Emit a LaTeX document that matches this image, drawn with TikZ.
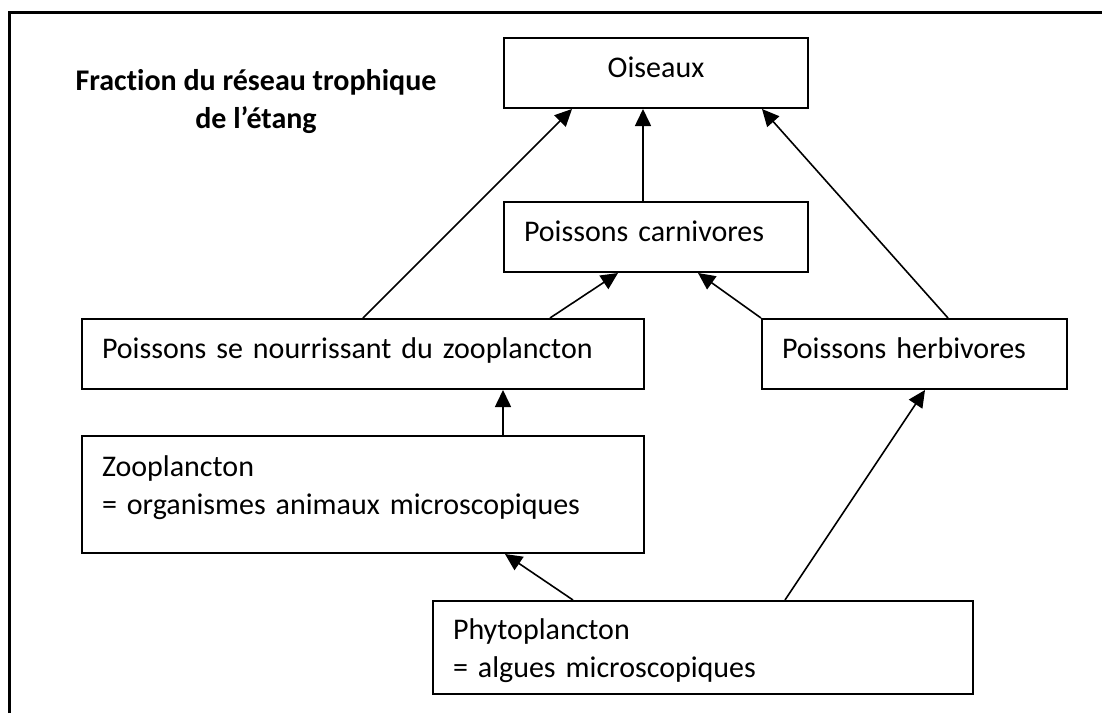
\documentclass[tikz,border=0pt]{standalone}
\usepackage{fontspec}
\setmainfont{Carlito}[Ligatures=CommonOff]
\usepackage{tikz}
\usetikzlibrary{arrows.meta}

\tikzset{
  boite/.style={draw, line width=1pt, inner xsep=10pt, inner ysep=0pt,
    align=left, text height=19.5pt, text depth=15.5pt, anchor=north west,
    font=\fontsize{15}{19}\selectfont},
  fleche/.style={-{Triangle[length=8.5pt,width=8pt]}, line width=0.8pt}
}

\begin{document}
\begin{tikzpicture}[x=0.5pt, y=-0.5pt]
  \useasboundingbox (0,0) rectangle (1102,713);
  \draw[line width=1.5pt] (9,713) -- (9,12) -- (1102,12);

  \node[anchor=base, align=center, font=\fontsize{15}{19}\selectfont\bfseries] (titre) at (256,128)
    {Fraction du réseau trophique\\de l’étang};

  \node[boite, align=center, text width=132pt] (oiseaux) at (503,37) {Oiseaux};
  \node[boite, text width=132pt] (carni) at (503,201) {Poissons carnivores};
  \node[boite, text width=261pt] (zoofish) at (81,318) {Poissons se nourrissant du zooplancton};
  \node[boite, text width=132.5pt] (herbi) at (761,318) {Poissons herbivores};
  \node[boite, text width=261pt, text height=20pt, text depth=38.5pt] (zoo) at (81,435)
    {Zooplancton\\= organismes animaux microscopiques};
  \node[boite, text width=250pt, text height=19pt, text depth=27.5pt] (phyto) at (432,600)
    {Phytoplancton\\= algues microscopiques};

  \draw[fleche] ([xshift=141pt]zoofish.north west) -- ([xshift=34.5pt]oiseaux.south west);
  \draw[fleche] ([xshift=70pt]carni.north west) -- ([xshift=70pt]oiseaux.south west);
  \draw[fleche] ([xshift=93.5pt]herbi.north west) -- ([xshift=129.5pt]oiseaux.south west);
  \draw[fleche] ([xshift=234.5pt]zoofish.north west) -- ([xshift=57.5pt]carni.south west);
  \draw[fleche] (herbi.north west) -- ([xshift=97.5pt]carni.south west);
  \draw[fleche] ([xshift=211pt]zoo.north west) -- ([xshift=211pt]zoofish.south west);
  \draw[fleche] ([xshift=70.5pt]phyto.north west) -- ([xshift=212pt]zoo.south west);
  \draw[fleche] ([xshift=176.5pt]phyto.north west) -- ([xshift=82pt]herbi.south west);
\end{tikzpicture}
\end{document}
